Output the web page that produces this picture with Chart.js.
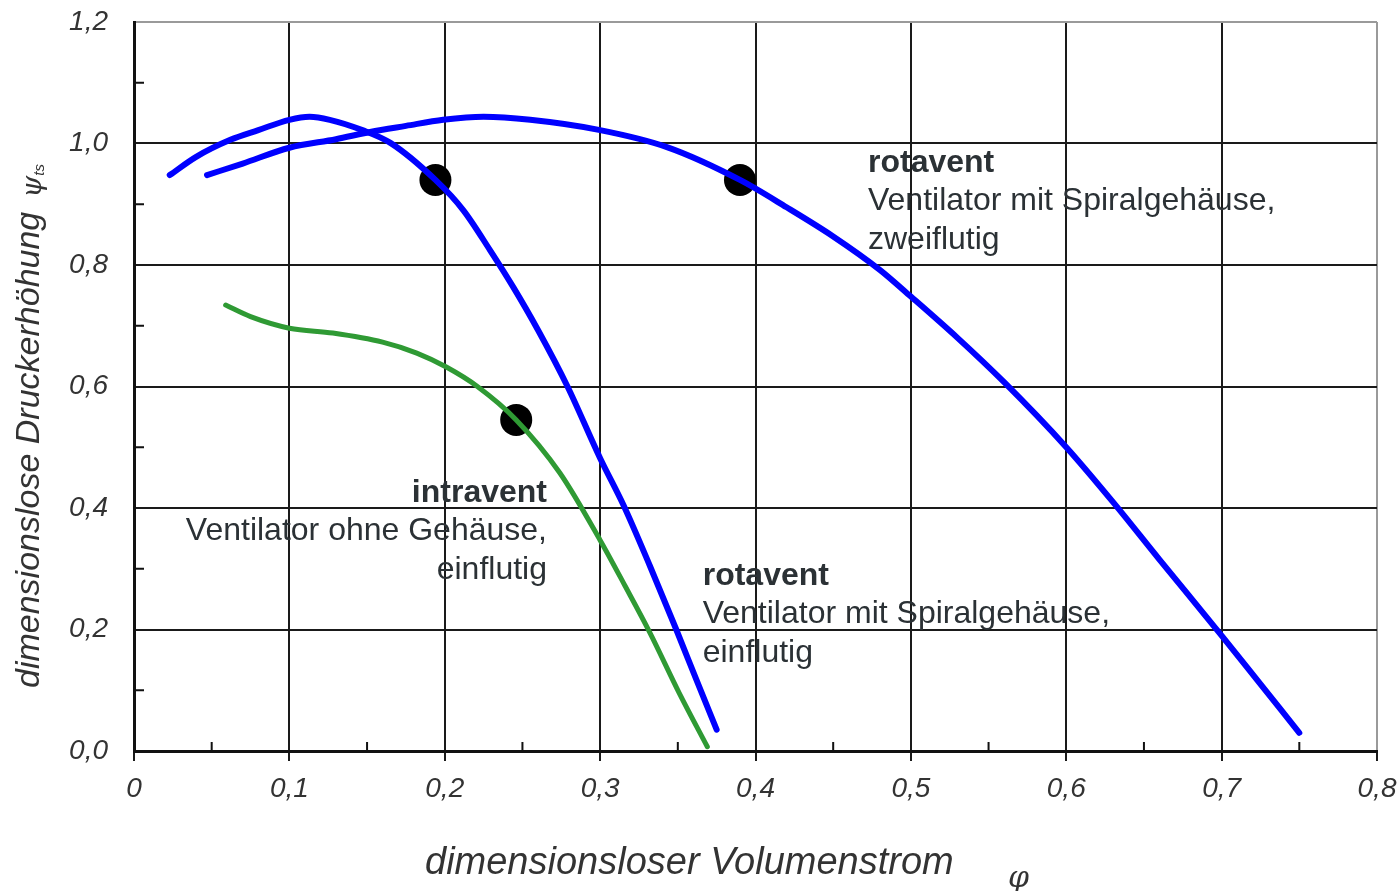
<!DOCTYPE html>
<html>
<head>
<meta charset="utf-8">
<script src="https://cdn.jsdelivr.net/npm/chart.js@4.4.0/dist/chart.umd.min.js"></script>
<style>
  html, body { margin: 0; padding: 0; background: #fff; }
  #wrap { width: 1400px; height: 891px; }
</style>
</head>
<body>
<div id="wrap"><canvas id="kennlinien"></canvas></div>
<script>
// rotavent, Spiralgehäuse, einflutig
const einflutigPhi = [0.023, 0.040, 0.062, 0.080, 0.100, 0.113, 0.126, 0.147, 0.165, 0.194, 0.212, 0.229, 0.244, 0.260, 0.279, 0.300, 0.315, 0.332, 0.349, 0.362, 0.375];
const einflutigPsi = [0.948, 0.978, 1.006, 1.022, 1.039, 1.044, 1.039, 1.022, 1.001, 0.940, 0.890, 0.825, 0.764, 0.693, 0.600, 0.482, 0.405, 0.305, 0.200, 0.117, 0.035];

// rotavent, Spiralgehäuse, zweiflutig
const zweiflutigPhi = [0.047, 0.070, 0.100, 0.130, 0.152, 0.175, 0.199, 0.225, 0.255, 0.300, 0.343, 0.390, 0.420, 0.450, 0.480, 0.500, 0.530, 0.560, 0.600, 0.630, 0.660, 0.700, 0.725, 0.750];
const zweiflutigPsi = [0.948, 0.967, 0.993, 1.007, 1.019, 1.029, 1.039, 1.044, 1.039, 1.022, 0.994, 0.940, 0.895, 0.847, 0.792, 0.748, 0.680, 0.607, 0.500, 0.410, 0.315, 0.190, 0.110, 0.030];

// intravent, ohne Gehäuse
const intraventPhi = [0.059, 0.075, 0.100, 0.128, 0.160, 0.182, 0.201, 0.221, 0.246, 0.274, 0.300, 0.316, 0.332, 0.351, 0.369];
const intraventPsi = [0.734, 0.715, 0.696, 0.688, 0.673, 0.655, 0.632, 0.600, 0.545, 0.458, 0.347, 0.272, 0.195, 0.095, 0.007];

// Betriebspunkte (schwarze Punkte)
const punktPhi = [0.194, 0.390, 0.246];
const punktPsi = [0.940, 0.940, 0.545];

const xTicks = [0, 0.1, 0.2, 0.3, 0.4, 0.5, 0.6, 0.7, 0.8];
const yTicks = [0, 0.2, 0.4, 0.6, 0.8, 1.0, 1.2];

const toXY = (xs, ys) => xs.map((x, i) => ({ x: x, y: ys[i] }));
const fmtX = v => (Math.abs(v) < 1e-9 ? '0' : v.toFixed(1).replace('.', ','));
const fmtY = v => v.toFixed(1).replace('.', ',');

// Beschriftungen im Diagramm
const beschriftungen = [
  { titel: 'rotavent', zeilen: ['Ventilator mit Spiralgehäuse,', 'zweiflutig'], phi: 0.4724, psi: 0.968, align: 'left' },
  { titel: 'intravent', zeilen: ['Ventilator ohne Gehäuse,', 'einflutig'], phi: 0.2658, psi: 0.425, align: 'right' },
  { titel: 'rotavent', zeilen: ['Ventilator mit Spiralgehäuse,', 'einflutig'], phi: 0.366, psi: 0.288, align: 'left' }
];

const textPlugin = {
  id: 'textPlugin',
  beforeDatasetsDraw(chart) {
    // kleine Zwischenstriche innen an den Achsen
    const { ctx, chartArea, scales: { x, y } } = chart;
    ctx.save();
    ctx.strokeStyle = '#111';
    ctx.lineWidth = 2;
    ctx.beginPath();
    for (let i = 0; i < xTicks.length - 1; i++) {
      const px = x.getPixelForValue((xTicks[i] + xTicks[i + 1]) / 2);
      ctx.moveTo(px, chartArea.bottom);
      ctx.lineTo(px, chartArea.bottom - 9);
    }
    for (let i = 0; i < yTicks.length - 1; i++) {
      const py = y.getPixelForValue((yTicks[i] + yTicks[i + 1]) / 2);
      ctx.moveTo(chartArea.left, py);
      ctx.lineTo(chartArea.left + 10, py);
    }
    ctx.stroke();
    ctx.restore();
  },
  afterDatasetsDraw(chart) {
    const { ctx, chartArea, scales: { x, y } } = chart;
    ctx.save();
    ctx.fillStyle = '#2b3135';
    ctx.textBaseline = 'middle';
    beschriftungen.forEach(b => {
      const px = x.getPixelForValue(b.phi);
      const py = y.getPixelForValue(b.psi);
      ctx.textAlign = b.align;
      ctx.font = 'bold 32px "Liberation Sans", Arial, sans-serif';
      ctx.fillText(b.titel, px, py);
      ctx.font = '32px "Liberation Sans", Arial, sans-serif';
      b.zeilen.forEach((z, i) => ctx.fillText(z, px, py + 38 + i * 39));
    });

    // Achsentitel
    ctx.fillStyle = '#333';
    ctx.textAlign = 'left';
    ctx.font = 'italic 38px "Liberation Sans", Arial, sans-serif';
    ctx.fillText('dimensionsloser Volumenstrom', 425, chartArea.bottom + 112);
    ctx.font = 'italic 30px "DejaVu Serif", serif';
    ctx.fillText('φ', 1008, chartArea.bottom + 128);

    ctx.translate(30, chartArea.bottom - 63);
    ctx.rotate(-Math.PI / 2);
    ctx.font = 'italic 34px "Liberation Sans", Arial, sans-serif';
    const yt = 'dimensionslose Druckerhöhung';
    ctx.fillText(yt, 0, 0);
    const w = ctx.measureText(yt).width;
    ctx.font = 'italic 28px "DejaVu Serif", serif';
    ctx.fillText('ψ', w + 14, 4);
    ctx.font = 'italic 15px "Liberation Sans", Arial, sans-serif';
    ctx.fillText('ts', w + 36, 10);
    ctx.restore();
  }
};

const ctx = document.getElementById('kennlinien').getContext('2d');

new Chart(ctx, {
  type: 'line',
  data: {
    datasets: [
      {
        label: 'rotavent einflutig',
        data: toXY(einflutigPhi, einflutigPsi),
        borderColor: '#0000ff',
        borderWidth: 6,
        pointRadius: 0,
        cubicInterpolationMode: 'monotone',
        borderCapStyle: 'round',
        fill: false
      },
      {
        label: 'rotavent zweiflutig',
        data: toXY(zweiflutigPhi, zweiflutigPsi),
        borderColor: '#0000ff',
        borderWidth: 6,
        pointRadius: 0,
        cubicInterpolationMode: 'monotone',
        borderCapStyle: 'round',
        fill: false
      },
      {
        label: 'intravent',
        data: toXY(intraventPhi, intraventPsi),
        borderColor: '#2f9a34',
        borderWidth: 5,
        pointRadius: 0,
        cubicInterpolationMode: 'monotone',
        borderCapStyle: 'round',
        fill: false
      },
      {
        label: 'Betriebspunkte',
        data: toXY(punktPhi, punktPsi),
        showLine: false,
        pointRadius: 16,
        pointBackgroundColor: '#000',
        pointBorderColor: '#000',
        pointBorderWidth: 0
      }
    ]
  },
  options: {
    responsive: true,
    maintainAspectRatio: false,
    animation: false,
    layout: {
      padding: { top: 22, right: 23, left: 0, bottom: 0 }
    },
    scales: {
      x: {
        type: 'linear',
        min: 0,
        max: 0.8,
        afterFit: s => { s.height = 140; s.paddingLeft = 0; s.paddingRight = 0; },
        afterBuildTicks: s => { s.ticks = xTicks.map(v => ({ value: v })); },
        ticks: {
          callback: v => fmtX(v),
          color: '#333',
          padding: 11,
          font: { family: '"Liberation Sans", Arial, sans-serif', size: 28, style: 'italic' }
        },
        grid: {
          color: c => (c.tick && Math.abs(c.tick.value - 0.8) < 1e-9 ? '#9a9a9a' : '#1a1a1a'),
          tickColor: '#1a1a1a',
          lineWidth: 2,
          tickLength: 10
        },
        border: { color: '#111', width: 3 }
      },
      y: {
        type: 'linear',
        min: 0,
        max: 1.2,
        afterFit: s => { s.width = 134; s.paddingTop = 0; s.paddingBottom = 0; },
        afterBuildTicks: s => { s.ticks = yTicks.map(v => ({ value: v })); },
        ticks: {
          callback: v => fmtY(v),
          color: '#333',
          padding: 26,
          font: { family: '"Liberation Sans", Arial, sans-serif', size: 28, style: 'italic' }
        },
        grid: {
          color: c => (c.tick && Math.abs(c.tick.value - 1.2) < 1e-9 ? '#9a9a9a' : '#1a1a1a'),
          lineWidth: 2,
          drawTicks: false
        },
        border: { color: '#111', width: 3 }
      }
    },
    plugins: {
      legend: { display: false },
      tooltip: { enabled: false }
    }
  },
  plugins: [textPlugin]
});
</script>
</body>
</html>
